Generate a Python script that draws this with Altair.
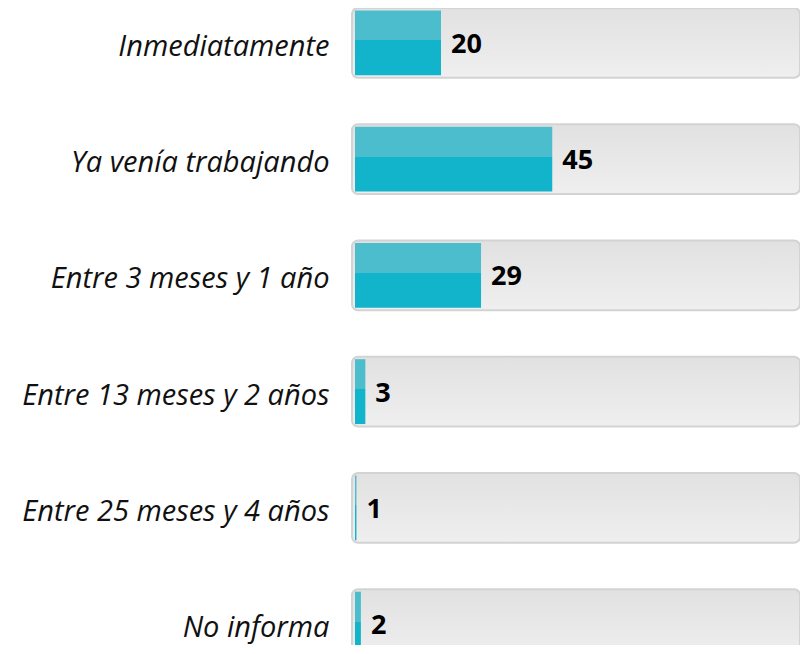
import altair as alt
import pandas as pd

categories = [
    "Inmediatamente",
    "Ya venía trabajando",
    "Entre 3 meses y 1 año",
    "Entre 13 meses y 2 años",
    "Entre 25 meses y 4 años",
    "No informa",
]
values = [20, 45, 29, 3, 1, 2]
track_max = [100] * len(categories)

df = pd.DataFrame({"cat": categories, "val": values, "full": track_max})

FONT = "Open Sans"

y_enc = alt.Y(
    "cat:N",
    sort=categories,
    scale=alt.Scale(paddingInner=0.4, paddingOuter=0.0, range=[0, 651]),
    axis=alt.Axis(
        title=None,
        domain=False,
        ticks=False,
        grid=False,
        labelFont=FONT,
        labelFontSize=29,
        labelFontStyle="italic",
        labelColor="#111111",
        labelPadding=23,
        labelOffset=4,
        labelLimit=400,
    ),
)
x_scale = alt.Scale(domain=[0, 100], nice=False, zero=True)

track_grad = alt.Gradient(
    gradient="linear", x1=0, y1=0, x2=0, y2=1,
    stops=[
        alt.GradientStop(offset=0, color="#e2e1e2"),
        alt.GradientStop(offset=1, color="#efefef"),
    ],
)
bar_grad = alt.Gradient(
    gradient="linear", x1=0, y1=0, x2=0, y2=1,
    stops=[
        alt.GradientStop(offset=0, color="#4bbdcd"),
        alt.GradientStop(offset=0.46, color="#4bbdcd"),
        alt.GradientStop(offset=0.46, color="#12b4cc"),
        alt.GradientStop(offset=1, color="#12b4cc"),
    ],
)

base = alt.Chart(df)

track = base.mark_bar(
    fill=track_grad, stroke="#d3d3d3", strokeWidth=2, cornerRadius=6, x2Offset=3
).encode(
    y=y_enc,
    x=alt.X("zero:Q", scale=x_scale, axis=None),
    x2="full:Q",
).transform_calculate(zero="0")

bars = base.mark_bar(fill=bar_grad, height={"band": 0.93}, xOffset=3).encode(
    y=y_enc,
    x=alt.X("zero:Q", scale=x_scale, axis=None),
    x2="val:Q",
).transform_calculate(zero="0")

labels = base.mark_text(
    align="left", baseline="middle", dx=10, dy=2,
    font=FONT, fontSize=27, fontWeight="bold", color="#000000",
).encode(
    y=y_enc,
    x=alt.X("val:Q", scale=x_scale, axis=None),
    text="val:Q",
)

chart = (
    alt.layer(track, bars, labels)
    .properties(
        width=445,
        height=637,
        autosize=alt.AutoSizeParams(type="none"),
        padding={"left": 344, "top": 0, "right": 3, "bottom": 0},
        background="#ffffff",
    )
    .configure_view(stroke=None)
)

chart.save("out.html", embed_options={"renderer": "svg", "actions": False})
